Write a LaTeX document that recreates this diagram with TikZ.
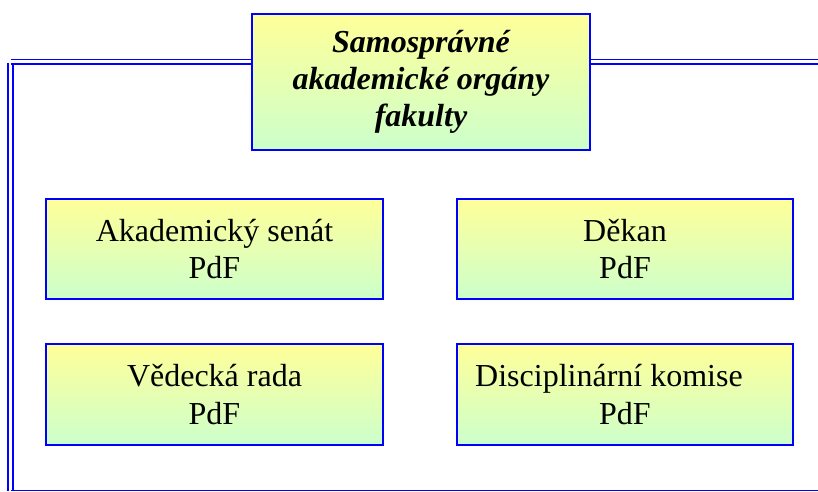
\documentclass[tikz,border=0pt]{standalone}
\usepackage{fontspec}
\setmainfont{Liberation Serif}
\usepackage{tikz}

\begin{document}
\begin{tikzpicture}[x=0.75pt,y=-0.75pt,
	organ/.style={draw=frameBlue, line width=1.8pt, top color=topYellow, bottom color=bottomGreen,
	  inner sep=0pt, align=center, font=\fontsize{24}{28}\selectfont},
	head/.style={draw=frameBlue, line width=1.2pt, top color=topYellow, bottom color=bottomGreen,
	  inner sep=0pt, align=center, font=\fontsize{24}{27.75}\selectfont\bfseries\itshape},
	rail/.style={frameBlue, line width=1.4pt}]
% Colors
\definecolor{frameBlue}{RGB}{0,0,255}
\definecolor{topYellow}{RGB}{255,255,153}
\definecolor{bottomGreen}{RGB}{204,255,204}
\useasboundingbox (0,0) rectangle (818,492);
% Frame round the organs
\begin{scope}[rail]
	\draw (11,59.5) -- (818,59.5); % top, outer
	\draw (11,64.3) -- (818,64.3); % top, inner
	\draw ( 8,63.5) -- ( 8,491);   % left, outer
	\draw (13,63.5) -- (13,491);   % left, inner
	\draw (11,490.5) -- (818,490.5); % bottom
\end{scope}
% Heading
\node[head, minimum width=253.5pt, minimum height=102pt] (organy) at (421,82)
	{Samosprávné\\akademické orgány\\fakulty};
% Organs
\node[organ, minimum width=252.75pt, minimum height=75pt] (senat) at (214.5,249)
	{Akademický senát\\PdF};
\node[organ, minimum width=252pt, minimum height=75pt] (dekan) at (625,249)
	{Děkan\\PdF};
\node[organ, minimum width=252.75pt, minimum height=75.75pt] (rada) at (214.5,394.5)
	{Vědecká rada\\PdF};
\node[organ, minimum width=252pt, minimum height=75.75pt] (komise) at (625,394.5)
	{Disciplinární komise\hspace*{1em}\\PdF};
\end{tikzpicture}
\end{document}
